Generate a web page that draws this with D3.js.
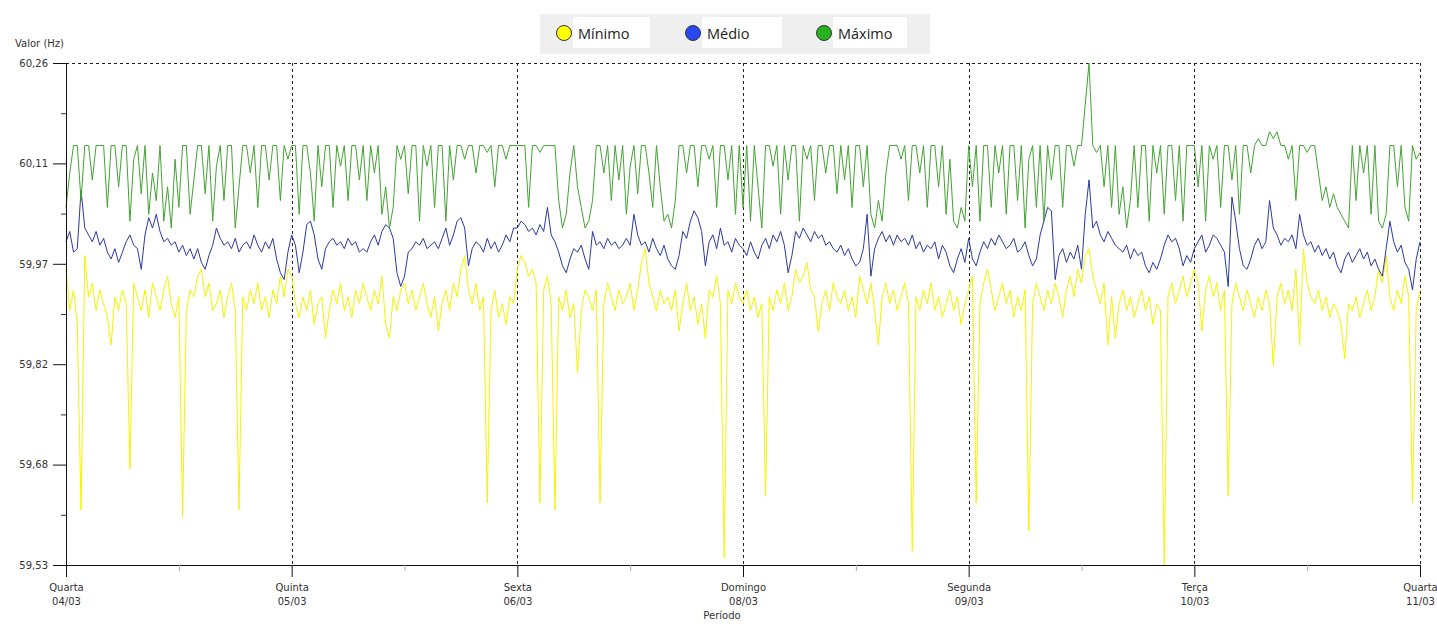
<!DOCTYPE html>
<html>
<head>
<meta charset="utf-8">
<script src="https://cdnjs.cloudflare.com/ajax/libs/d3/7.8.5/d3.min.js"></script>
<style>
  body { margin: 0; background: #fff; }
  svg { display: block; }
</style>
</head>
<body>
<svg id="chart" width="1437" height="627"></svg>
<script>
// eixo x: um ponto a cada 24 min, 60 por dia
var dias = ["Quarta", "Quinta", "Sexta", "Domingo", "Segunda", "Terça", "Quarta"];
var datas = ["04/03", "05/03", "06/03", "08/03", "09/03", "10/03", "11/03"];
var yTicks = [59.53, 59.676, 59.822, 59.968, 60.114, 60.26];
var yLabels = ["59,53", "59,68", "59,82", "59,97", "60,11", "60,26"];
var legenda = ["Mínimo", "Médio", "Máximo"];

var minimo = [
  59.960,59.900,59.930,59.880,59.610,59.980,59.920,59.940,59.900,59.930,59.910,59.890,59.850,59.920,59.900,59.930,59.910,59.670,59.940,59.920,
  59.900,59.930,59.890,59.940,59.920,59.900,59.930,59.950,59.910,59.890,59.920,59.600,59.900,59.930,59.920,59.950,59.960,59.920,59.940,59.900,
  59.910,59.930,59.890,59.920,59.940,59.900,59.610,59.920,59.900,59.930,59.910,59.940,59.900,59.920,59.890,59.930,59.910,59.950,59.920,59.960,
  59.950,59.910,59.890,59.920,59.900,59.930,59.880,59.910,59.920,59.860,59.900,59.930,59.910,59.940,59.900,59.920,59.890,59.930,59.910,59.940,
  59.920,59.900,59.930,59.910,59.950,59.880,59.860,59.920,59.900,59.930,59.940,59.910,59.930,59.900,59.920,59.940,59.910,59.890,59.920,59.870,
  59.910,59.930,59.900,59.940,59.920,59.960,59.980,59.930,59.910,59.940,59.900,59.920,59.620,59.900,59.930,59.890,59.910,59.880,59.920,59.910,
  59.960,59.980,59.970,59.950,59.960,59.940,59.620,59.930,59.950,59.910,59.610,59.920,59.900,59.930,59.890,59.910,59.810,59.900,59.930,59.920,
  59.900,59.930,59.620,59.910,59.940,59.920,59.900,59.930,59.910,59.920,59.940,59.900,59.930,59.970,59.990,59.940,59.920,59.900,59.930,59.910,
  59.920,59.900,59.930,59.870,59.910,59.940,59.900,59.920,59.880,59.910,59.860,59.930,59.920,59.950,59.910,59.540,59.930,59.910,59.940,59.920,
  59.910,59.930,59.900,59.920,59.890,59.910,59.630,59.920,59.900,59.930,59.910,59.940,59.900,59.920,59.960,59.940,59.950,59.970,59.930,59.920,
  59.870,59.910,59.930,59.900,59.940,59.920,59.910,59.930,59.900,59.920,59.890,59.950,59.930,59.910,59.940,59.900,59.850,59.920,59.940,59.910,
  59.930,59.900,59.920,59.940,59.910,59.550,59.920,59.900,59.930,59.910,59.940,59.900,59.920,59.890,59.910,59.930,59.900,59.920,59.880,59.910,
  59.930,59.950,59.620,59.910,59.940,59.960,59.930,59.900,59.920,59.940,59.910,59.930,59.890,59.920,59.900,59.930,59.580,59.910,59.940,59.920,
  59.900,59.930,59.910,59.940,59.920,59.890,59.930,59.950,59.920,59.960,59.940,59.980,59.990,59.950,59.930,59.910,59.940,59.850,59.920,59.860,
  59.910,59.930,59.900,59.920,59.890,59.910,59.930,59.900,59.920,59.880,59.910,59.900,59.530,59.920,59.940,59.910,59.930,59.950,59.920,59.940,
  59.960,59.940,59.870,59.930,59.950,59.920,59.940,59.900,59.930,59.630,59.910,59.940,59.920,59.900,59.930,59.910,59.890,59.920,59.900,59.930,
  59.910,59.820,59.920,59.940,59.910,59.930,59.900,59.960,59.850,59.990,59.940,59.920,59.910,59.930,59.900,59.920,59.890,59.910,59.900,59.880,
  59.830,59.910,59.900,59.920,59.890,59.910,59.930,59.900,59.920,59.960,59.940,59.980,59.920,59.900,59.930,59.910,59.950,59.920,59.620,59.900,
  59.930
];

var medio = [
  60.000,60.015,59.985,59.990,60.075,60.020,60.010,60.000,60.015,59.995,60.005,59.985,59.975,59.990,59.970,59.985,60.000,60.010,59.995,59.990,
  59.960,60.010,60.035,60.020,60.040,60.015,60.000,60.005,59.995,60.000,59.985,59.995,59.980,59.990,59.975,59.990,59.970,59.960,59.980,59.995,
  60.020,60.005,59.995,60.000,59.990,60.005,59.985,59.995,60.000,59.990,60.010,59.995,59.985,60.000,59.990,60.005,59.975,59.955,59.945,59.985,
  60.010,59.995,59.955,59.985,60.025,60.030,60.010,59.975,59.960,59.990,60.000,60.005,59.995,60.000,59.990,60.005,59.995,60.000,59.985,59.990,
  59.985,60.000,60.010,59.995,60.015,60.025,60.020,60.005,59.955,59.935,59.950,59.985,59.990,60.000,59.995,60.005,59.990,59.995,60.000,59.990,
  60.005,60.020,59.995,60.010,60.030,60.035,60.020,59.965,59.990,60.000,59.995,59.985,60.005,59.990,60.000,59.985,59.995,60.010,60.000,60.020,
  60.020,60.030,60.025,60.015,60.020,60.010,60.025,60.015,60.050,60.010,60.000,59.985,59.965,59.955,59.975,59.990,59.985,59.995,59.975,59.960,
  60.015,59.995,60.000,59.990,60.005,59.995,60.000,59.990,59.995,60.005,59.995,60.040,60.010,59.995,60.000,59.985,60.005,59.990,59.980,59.995,
  59.975,59.965,59.960,59.980,60.015,60.005,60.030,60.045,60.035,60.015,59.965,60.000,60.010,59.990,60.020,59.995,60.000,59.985,60.005,59.995,
  59.990,59.980,60.000,59.985,59.975,59.995,60.005,59.990,60.010,60.000,60.015,59.995,59.955,59.980,60.015,60.005,60.020,60.010,60.000,60.015,
  60.005,60.010,59.995,60.000,59.990,59.985,59.995,59.980,59.990,59.975,59.965,59.970,59.990,60.040,59.950,59.990,60.005,60.015,60.000,60.010,
  59.995,60.010,60.000,60.005,59.995,60.010,59.990,60.000,59.985,59.995,59.990,60.000,59.975,59.995,59.985,59.965,59.955,59.975,59.990,59.970,
  60.005,59.975,59.965,59.985,60.000,59.990,60.005,59.995,60.010,60.000,59.990,59.995,60.005,59.985,59.990,60.000,59.980,59.965,59.975,60.010,
  60.030,60.050,60.045,59.945,59.980,59.990,59.970,59.985,59.975,59.995,59.960,60.040,60.090,60.020,60.030,60.010,60.000,60.015,60.005,59.995,
  59.990,59.985,59.995,59.975,59.990,59.980,59.985,59.965,59.955,59.970,59.960,59.975,59.995,60.010,60.000,60.005,59.990,59.965,59.980,59.970,
  59.990,60.000,60.010,59.985,59.995,60.010,60.005,59.995,59.985,59.935,60.065,60.030,59.990,59.965,59.960,59.975,59.995,60.005,59.990,60.000,
  60.060,60.020,60.010,59.995,60.005,60.000,60.010,59.990,60.040,60.010,59.995,60.000,59.985,59.995,59.980,59.990,59.975,59.985,59.965,59.955,
  59.975,59.985,59.970,59.980,59.990,59.975,59.985,59.965,59.975,59.960,59.950,59.990,60.030,60.000,59.985,59.995,59.970,59.960,59.930,59.975,
  60.000
];

var maximo = [
  60.05,60.10,60.14,60.14,60.06,60.14,60.14,60.09,60.14,60.14,60.14,60.05,60.14,60.14,60.08,60.14,60.14,60.03,60.12,60.14,
  60.07,60.14,60.04,60.10,60.06,60.14,60.03,60.08,60.02,60.12,60.05,60.14,60.14,60.04,60.09,60.14,60.14,60.07,60.14,60.03,
  60.11,60.14,60.06,60.14,60.14,60.02,60.08,60.14,60.14,60.10,60.14,60.05,60.14,60.14,60.09,60.14,60.14,60.06,60.14,60.12,
  60.14,60.14,60.04,60.14,60.14,60.10,60.03,60.14,60.08,60.14,60.14,60.05,60.14,60.11,60.14,60.06,60.14,60.14,60.09,60.14,
  60.06,60.14,60.10,60.14,60.04,60.08,60.02,60.05,60.14,60.12,60.14,60.07,60.14,60.14,60.03,60.14,60.11,60.14,60.05,60.14,
  60.14,60.03,60.14,60.09,60.14,60.14,60.12,60.14,60.14,60.10,60.14,60.14,60.13,60.14,60.08,60.14,60.14,60.12,60.14,60.14,
  60.14,60.14,60.14,60.05,60.14,60.14,60.13,60.14,60.14,60.14,60.14,60.06,60.02,60.04,60.10,60.14,60.08,60.05,60.02,60.03,
  60.06,60.14,60.14,60.10,60.14,60.06,60.14,60.09,60.14,60.04,60.11,60.14,60.07,60.14,60.14,60.10,60.05,60.14,60.08,60.03,
  60.04,60.02,60.06,60.14,60.14,60.10,60.14,60.14,60.08,60.14,60.14,60.12,60.14,60.05,60.14,60.14,60.09,60.14,60.04,60.14,
  60.05,60.14,60.03,60.14,60.08,60.02,60.14,60.14,60.11,60.14,60.04,60.14,60.09,60.14,60.14,60.03,60.14,60.12,60.14,60.06,
  60.14,60.14,60.10,60.14,60.14,60.07,60.14,60.09,60.14,60.05,60.14,60.14,60.08,60.14,60.04,60.02,60.06,60.03,60.10,60.14,
  60.14,60.14,60.12,60.14,60.06,60.14,60.14,60.10,60.14,60.05,60.14,60.14,60.08,60.14,60.04,60.12,60.03,60.02,60.05,60.03,
  60.14,60.08,60.14,60.03,60.14,60.14,60.05,60.14,60.10,60.14,60.04,60.14,60.14,60.06,60.14,60.02,60.12,60.14,60.05,60.14,
  60.03,60.14,60.09,60.14,60.14,60.05,60.14,60.14,60.11,60.14,60.14,60.20,60.26,60.14,60.13,60.14,60.08,60.14,60.05,60.14,
  60.04,60.08,60.02,60.06,60.14,60.05,60.14,60.14,60.03,60.14,60.10,60.14,60.04,60.14,60.14,60.06,60.14,60.03,60.14,60.14,
  60.14,60.08,60.14,60.03,60.14,60.12,60.14,60.05,60.14,60.14,60.09,60.14,60.04,60.14,60.14,60.10,60.14,60.15,60.14,60.14,
  60.16,60.15,60.16,60.14,60.14,60.12,60.14,60.06,60.14,60.14,60.13,60.14,60.14,60.10,60.06,60.08,60.05,60.07,60.05,60.04,
  60.03,60.02,60.14,60.06,60.14,60.10,60.14,60.04,60.14,60.03,60.02,60.04,60.14,60.14,60.08,60.14,60.05,60.03,60.14,60.12,
  60.13
];

var pontosPorDia = 60;

(function () {

  var svg = d3.select('#chart');

  var x = d3.scaleLinear().domain([0, 6]).range([66, 1420]);
  var y = d3.scaleLinear().domain([59.53, 60.26]).range([565, 63]);

  var fonte = 'DejaVu Sans, Verdana, sans-serif';

  // grade tracejada (verticais + borda de cima)
  var grade = svg.append('g').attr('id', 'grade')
    .attr('stroke', '#222')
    .attr('stroke-dasharray', '3,3')
    .attr('stroke-width', 1);

  grade.selectAll('line')
    .data(d3.range(1, 7))
    .enter()
    .append('line')
    .attr('x1', d => Math.round(x(d)) + 0.5)
    .attr('x2', d => Math.round(x(d)) + 0.5)
    .attr('y1', y(60.26))
    .attr('y2', y(59.53));

  grade.append('line')
    .attr('x1', x(0)).attr('x2', x(6))
    .attr('y1', y(60.26) + 0.5).attr('y2', y(60.26) + 0.5);

  // series
  var linha = d3.line()
    .x((d, i) => x(i / pontosPorDia))
    .y(d => y(d));

  var series = svg.append('g').attr('id', 'series').attr('fill', 'none').attr('stroke-width', 1);

  series.append('path').attr('d', linha(minimo)).attr('stroke', '#f4f400');
  series.append('path').attr('d', linha(medio)).attr('stroke', '#2c3a9c');
  series.append('path').attr('d', linha(maximo)).attr('stroke', '#43a332');

  // eixo y
  var eixoY = svg.append('g')
    .attr('transform', 'translate(' + Math.round(x(0)) + ',0)')
    .call(d3.axisLeft(y).tickValues(yTicks).tickSize(13).tickSizeOuter(0).tickPadding(5)
      .tickFormat((d, i) => yLabels[i]));
  eixoY.select('.domain').attr('stroke', '#111');
  eixoY.selectAll('.tick line').attr('stroke', '#111');
  eixoY.selectAll('.tick text').attr('fill', '#333').attr('font-family', fonte).attr('font-size', '10px');

  var meiosY = d3.range(5).map(k => (yTicks[k] + yTicks[k + 1]) / 2);
  svg.append('g')
    .attr('transform', 'translate(' + Math.round(x(0)) + ',0)')
    .call(d3.axisLeft(y).tickValues(meiosY).tickSize(5).tickFormat(''))
    .call(g => g.select('.domain').remove())
    .selectAll('.tick line').attr('stroke', '#333');

  // eixo x
  var eixoX = svg.append('g')
    .attr('transform', 'translate(0,' + Math.round(y(59.53)) + ')')
    .call(d3.axisBottom(x).tickValues(d3.range(7)).tickSize(12).tickSizeOuter(0).tickFormat(''));
  eixoX.select('.domain').attr('stroke', '#111').attr('d', 'M' + (x(0) - 12) + ',0.5H' + x(6));
  eixoX.selectAll('.tick line').attr('stroke', '#111');

  eixoX.selectAll('.tick').append('text')
    .attr('y', 26)
    .attr('fill', '#333')
    .attr('font-family', fonte)
    .attr('font-size', '10px')
    .attr('text-anchor', 'middle')
    .text(d => dias[d]);

  eixoX.selectAll('.tick').append('text')
    .attr('y', 40)
    .attr('fill', '#333')
    .attr('font-family', fonte)
    .attr('font-size', '10px')
    .attr('text-anchor', 'middle')
    .text(d => datas[d]);

  svg.append('g')
    .attr('transform', 'translate(0,' + Math.round(y(59.53)) + ')')
    .call(d3.axisBottom(x).tickValues(d3.range(6).map(d => d + 0.5)).tickSize(6).tickFormat(''))
    .call(g => g.select('.domain').remove())
    .selectAll('.tick line').attr('stroke', '#aaa');

  svg.append('text')
    .attr('x', 15).attr('y', 47)
    .attr('fill', '#333')
    .attr('font-family', fonte)
    .attr('font-size', '10px')
    .text('Valor (Hz)');

  svg.append('text')
    .attr('x', 722).attr('y', 619)
    .attr('fill', '#333')
    .attr('font-family', fonte)
    .attr('font-size', '10px')
    .attr('text-anchor', 'middle')
    .text('Período');

  // legenda
  var corLegenda = ['#ffff00', '#2a48f0', '#28b020'];
  var leg = svg.append('g').attr('id', 'legenda');
  leg.append('rect')
    .attr('x', 540).attr('y', 14)
    .attr('width', 390).attr('height', 40)
    .attr('fill', '#efefef');

  var itens = leg.selectAll('g.item')
    .data(legenda)
    .enter()
    .append('g')
    .attr('class', 'item')
    .attr('transform', (d, i) => 'translate(' + [564, 693, 824][i] + ',33)');

  itens.append('rect')
    .attr('x', 9).attr('y', -16)
    .attr('width', (d, i) => [77, 80, 74][i]).attr('height', 31)
    .attr('fill', '#fff');

  itens.append('circle')
    .attr('r', 7.5)
    .attr('fill', (d, i) => corLegenda[i])
    .attr('stroke', '#333')
    .attr('stroke-width', 1);

  itens.append('text')
    .attr('x', (d, i) => [14, 14, 14][i])
    .attr('y', 6)
    .attr('fill', '#222')
    .attr('font-family', 'Open Sans, sans-serif')
    .attr('font-size', '14.5px')
    .text(d => d);

})();
</script>
</body>
</html>
